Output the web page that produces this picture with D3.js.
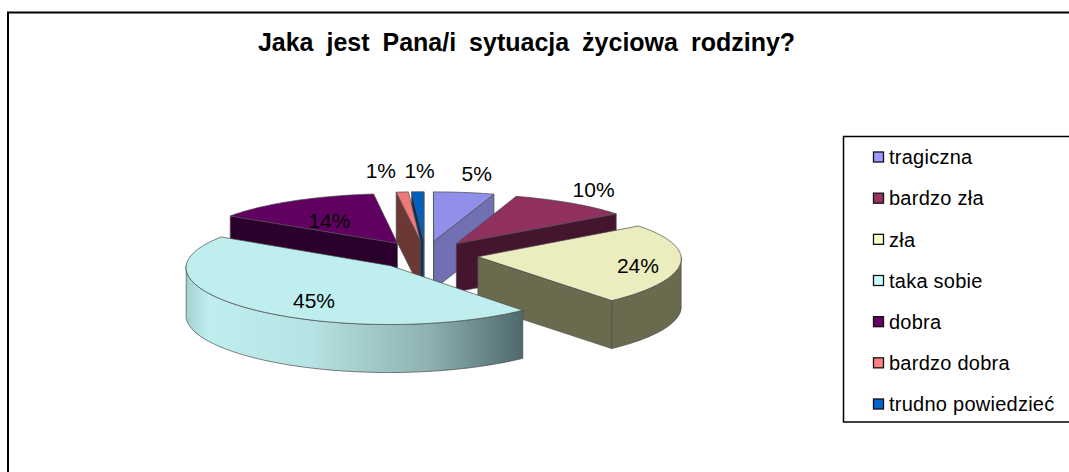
<!DOCTYPE html>
<html>
<head>
<meta charset="utf-8">
<script src="https://cdnjs.cloudflare.com/ajax/libs/d3/7.8.5/d3.min.js"></script>
<style>
  html, body { margin: 0; padding: 0; background: #fff; }
  svg { display: block; }
  text { font-family: "Liberation Sans", Arial, sans-serif; fill: #000; }
</style>
</head>
<body>
<div id="chart"></div>
<script>
const titleText = "Jaka jest Pana/i sytuacja życiowa rodziny?";
const categories = ["tragiczna", "bardzo zła", "zła", "taka sobie", "dobra", "bardzo dobra", "trudno powiedzieć"];
const values = [5, 10, 24, 45, 14, 1, 1];

const legendColors = ["#9999ff", "#993366", "#ffffcc", "#ccffff", "#660066", "#ff8080", "#0066cc"];
const topColors = ["#9090ea", "#8f305f", "#ecedbf", "#bfeeee", "#600060", "#ef7878", "#0060c0"];
const sideColors = ["#7070b2", "#45142e", "#6a6a4e", "url(#wallFade)", "#2c002c", "#6b3833", "#003262"];

// label placement: radius on the disc, then a small pixel nudge
const labelRadius = [1.4, 1.37, 0.82, 0.72, 0.5, 1.37, 1.37];
const labelNudgeX = [1, -19, -6, 23, -15, -15, 4];
const labelNudgeY = [-1, 0, 3, 3.5, -1, -5, -4];

const width = 1069, height = 472;
const cx = 425.5, cy = 255;
const rx = 203, ry = 54, depth = 48;
const explode = 0.26, perspX = 0.03, perspY = 0.06;

const svg = d3.select("#chart").append("svg")
  .attr("width", width)
  .attr("height", height);

// frame, only top and left are inside the picture
svg.append("path")
  .attr("d", `M8,${height}V12.5H${width}`)
  .attr("fill", "none")
  .attr("stroke", "#000")
  .attr("stroke-width", 2);

svg.append("text")
  .attr("x", 526.5)
  .attr("y", 51)
  .attr("text-anchor", "middle")
  .attr("font-size", 25)
  .attr("font-weight", "bold")
  .attr("word-spacing", 6)
  .text(titleText);

const defs = svg.append("defs");
const fade = defs.append("linearGradient")
  .attr("id", "wallFade")
  .attr("gradientUnits", "userSpaceOnUse")
  .attr("x1", 188).attr("x2", 530)
  .attr("y1", 0).attr("y2", 0);
[[0, "#a6d4d4"], [0.06, "#bfeeee"], [0.35, "#b6e4e4"], [0.7, "#8fb2b2"], [1, "#4a6367"]].forEach(s => {
  fade.append("stop").attr("offset", s[0]).attr("stop-color", s[1]);
});

const pie = d3.pie().sort(null)(values);
const slices = pie.map((d, i) => {
  const mid = (d.startAngle + d.endAngle) / 2;
  return { i: i, a0: d.startAngle, a1: d.endAngle, mid: mid, ox: explode * Math.sin(mid), oy: -explode * Math.cos(mid) };
});

// disc coordinates to screen, the front of the disc is a bit bigger
function project(u, v, z) {
  const sx = 1 / (1 - perspX * v), sy = 1 / (1 - perspY * v);
  return [cx + u * rx * sx, cy + v * ry * sy + (z || 0)];
}

function rimPoint(sl, a, r, z) {
  return project(sl.ox + r * Math.sin(a), sl.oy - r * Math.cos(a), z);
}

function arcSamples(a0, a1) {
  const n = Math.max(2, Math.ceil((a1 - a0) / 0.03));
  return d3.range(n + 1).map(k => a0 + (a1 - a0) * k / n);
}

const line = d3.line();
const edge = { stroke: "#4a4a4a", width: 0.7 };

function face(points, color) {
  svg.append("path")
    .attr("d", line(points) + "Z")
    .attr("fill", color)
    .attr("stroke", edge.stroke)
    .attr("stroke-width", edge.width)
    .attr("stroke-linejoin", "round");
}

// back slices first
slices.slice().sort((a, b) => a.oy - b.oy).forEach(sl => {
  const apex = project(sl.ox, sl.oy);
  const inner = rimPoint(sl, sl.mid, 0.9);

  // cut faces, only those turned to the viewer
  [sl.a0, sl.a1].forEach(a => {
    const rim = rimPoint(sl, a, 1);
    const dx = rim[0] - apex[0], dy = rim[1] - apex[1];
    const side = dx * (inner[1] - apex[1]) - dy * (inner[0] - apex[0]);
    if (dx * side < 0) {
      face([apex, rim, [rim[0], rim[1] + depth], [apex[0], apex[1] + depth]], sideColors[sl.i]);
    }
  });

  // outer wall, front half of the disc only
  const w0 = Math.max(sl.a0, Math.PI / 2), w1 = Math.min(sl.a1, 3 * Math.PI / 2);
  if (w1 > w0) {
    const upper = arcSamples(w0, w1).map(a => rimPoint(sl, a, 1));
    const lower = upper.map(p => [p[0], p[1] + depth]).reverse();
    face(upper.concat(lower), sideColors[sl.i]);
  }

  const top = [apex].concat(arcSamples(sl.a0, sl.a1).map(a => rimPoint(sl, a, 1)));
  face(top, topColors[sl.i]);
});

slices.forEach(sl => {
  const p = rimPoint(sl, sl.mid, labelRadius[sl.i]);
  svg.append("text")
    .attr("x", p[0] + labelNudgeX[sl.i])
    .attr("y", p[1] + labelNudgeY[sl.i])
    .attr("dy", "0.36em")
    .attr("text-anchor", "middle")
    .attr("font-size", 21)
    .text(d3.format(".0f")(values[sl.i]) + "%");
});

// legend, the box runs off the right edge
svg.append("path")
  .attr("d", `M${width},136.5H843.5V422H${width}`)
  .attr("fill", "#fff")
  .attr("stroke", "#000")
  .attr("stroke-width", 1.5);

const legendY = d3.scalePoint().domain(categories).range([157, 404]);

const rows = svg.selectAll(".row")
  .data(categories)
  .enter().append("g")
  .attr("class", "row")
  .attr("transform", d => `translate(0,${legendY(d)})`);

rows.append("rect")
  .attr("x", 873.5)
  .attr("y", -5)
  .attr("width", 10)
  .attr("height", 10)
  .attr("fill", (d, i) => legendColors[i])
  .attr("stroke", "#111")
  .attr("stroke-width", 1.3);

rows.append("text")
  .attr("x", 889)
  .attr("dy", "0.36em")
  .attr("font-size", 20)
  .attr("letter-spacing", 0.25)
  .text(d => d);
</script>
</body>
</html>
